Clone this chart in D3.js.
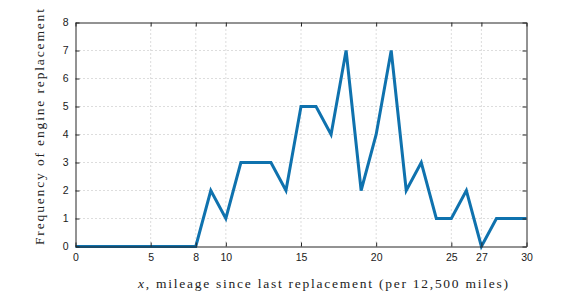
<!DOCTYPE html>
<html><head><meta charset="utf-8">
<script src="https://cdn.jsdelivr.net/npm/d3@7"></script>
<style>body{margin:0;background:#fff;} svg{display:block;}</style>
</head><body>
<script>
const xValues = [0,1,2,3,4,5,6,7,8,9,10,11,12,13,14,15,16,17,18,19,20,21,22,23,24,25,26,27,28,29,30];
const frequency = [0,0,0,0,0,0,0,0,0,2,1,3,3,3,2,5,5,4,7,2,4,7,2,3,1,1,2,0,1,1,1];
const xTicks = [0,5,8,10,15,20,25,27,30];
const yTicks = [0,1,2,3,4,5,6,7,8];
const xLabel = "x, mileage since last replacement (per 12,500 miles)";
const yLabel = "Frequency of engine replacement";

const W=582,H=299;
const m={l:75.5,r:582-526.5,t:22.5,b:299-246.5};
const svg=d3.select("body").append("svg").attr("width",W).attr("height",H);
const x=d3.scaleLinear().domain([0,30]).range([m.l,W-m.r]);
const y=d3.scaleLinear().domain([0,8]).range([H-m.b,m.t]);

const g=svg.append("g");
g.selectAll(".gx").data(xTicks.filter(d=>d>0&&d<30)).enter().append("line")
 .attr("x1",d=>x(d)).attr("x2",d=>x(d)).attr("y1",y(0)).attr("y2",y(8))
 .attr("stroke","#a8a8a8").attr("stroke-width",0.8).attr("stroke-dasharray","1,3");
g.selectAll(".gy").data(yTicks.filter(d=>d>0&&d<8)).enter().append("line")
 .attr("y1",d=>y(d)).attr("y2",d=>y(d)).attr("x1",x(0)).attr("x2",x(30))
 .attr("stroke","#a8a8a8").attr("stroke-width",0.8).attr("stroke-dasharray","1,3");

svg.append("path").datum(xValues.map((v,i)=>[v,frequency[i]]))
 .attr("fill","none").attr("stroke","#0f72ae").attr("stroke-width",3)
 .attr("stroke-linejoin","miter").attr("stroke-miterlimit",4)
 .attr("d",d3.line().x(d=>x(d[0])).y(d=>y(d[1])));

const font="'Liberation Sans', Arial, sans-serif";
const xb=svg.append("g").attr("transform",`translate(0,${y(0)})`)
 .call(d3.axisBottom(x).tickValues(xTicks).tickSizeInner(-4).tickSizeOuter(0).tickPadding(7));
const xt=svg.append("g").attr("transform",`translate(0,${y(8)})`)
 .call(d3.axisTop(x).tickValues(xTicks).tickSizeInner(-4).tickSizeOuter(0).tickFormat(""));
const yl=svg.append("g").attr("transform",`translate(${x(0)},0)`)
 .call(d3.axisLeft(y).tickValues(yTicks).tickSizeInner(-4).tickSizeOuter(0).tickPadding(7));
const yr=svg.append("g").attr("transform",`translate(${x(30)},0)`)
 .call(d3.axisRight(y).tickValues(yTicks).tickSizeInner(-4).tickSizeOuter(0).tickFormat(""));
[xb,xt,yl,yr].forEach(a=>{
 a.selectAll("path.domain").attr("stroke","#262626").attr("stroke-width",1);
 a.selectAll(".tick line").attr("stroke","#262626");
 a.selectAll("text").attr("font-family",font).attr("font-size",10.5).attr("fill","#1a1a1a");
});

const serif="'Liberation Serif', 'DejaVu Serif', serif";
const xl=svg.append("text").attr("x",138).attr("y",288).attr("text-anchor","start")
 .attr("font-family",serif).attr("font-size",13.5).attr("fill","#222")
 .attr("textLength",370).attr("lengthAdjust","spacing");
xl.append("tspan").attr("font-style","italic").text("x");
xl.append("tspan").text(xLabel.slice(1));
svg.append("text").attr("transform",`translate(43.5,245) rotate(-90)`)
 .attr("text-anchor","start").attr("font-family",serif).attr("font-size",13.5).attr("fill","#222")
 .attr("textLength",236).attr("lengthAdjust","spacing")
 .text(yLabel);
</script>
</body></html>
